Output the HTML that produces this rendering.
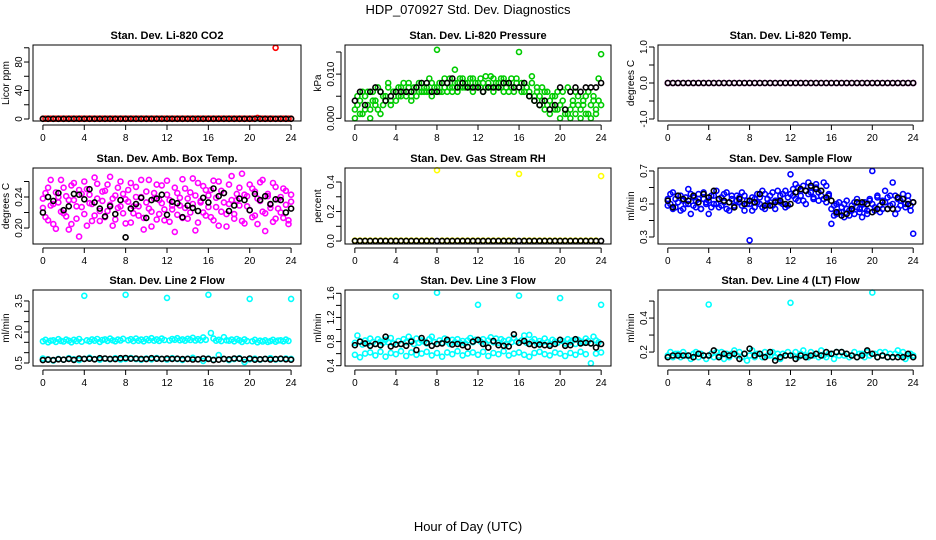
<!DOCTYPE html>
<html><head><meta charset="utf-8"><style>
html,body{margin:0;padding:0;background:#fff;}
svg{display:block;font-family:"Liberation Sans",sans-serif;}
</style></head><body>
<svg id="chart" width="936" height="540" viewBox="0 0 936 540" xmlns="http://www.w3.org/2000/svg">
<text x="468" y="14" text-anchor="middle" font-size="13">HDP_070927  Std. Dev. Diagnostics</text>
<text x="468" y="531" text-anchor="middle" font-size="13">Hour of Day (UTC)</text>
</svg>
<script>
const xTicks=[0,4,8,12,16,20,24];
// Panel 1: CO2
const co2Color=[0.4,0.4,0.4,0.4,0.4,0.4,0.4,0.4,0.4,0.4,0.4,0.4,0.4,0.4,0.4,0.4,0.4,0.4,0.4,0.4,0.4,0.4,0.4,0.4,0.4,0.4,0.4,0.4,0.4,0.4,0.4,0.4,0.4,0.4,0.4,0.4,0.4,0.4,0.4,0.4,0.4,0.4,0.4,0.4,0.4,0.4,0.4,0.4,0.4,0.4,0.4,0.4,0.4,0.4,0.4,0.4,0.4,0.4,0.4,0.4,0.4,0.4,0.4,0.4,0.4,0.4,0.4,0.4,0.4,0.4,0.4,0.4,0.4,0.4,0.4,0.4,0.4,0.4,0.4,0.4,0.4,0.4,0.4,1.5,0.4,0.4,0.4,0.4,0.4,0.4,100,0.4,0.4,0.4,0.4,0.4,0.4];
const co2Black=[0.3,0.3,0.3,0.3,0.3,0.3,0.3,0.3,0.3,0.3,0.3,0.3,0.3,0.3,0.3,0.3,0.3,0.3,0.3,0.3,0.3,0.3,0.3,0.3,0.3,0.3,0.3,0.3,0.3,0.3,0.3,0.3,0.3,0.3,0.3,0.3,0.3,0.3,0.3,0.3,0.3,0.3,0.3,0.3,0.3,0.3,0.3,0.3,0.3];
// Panel 2: Pressure
const presColor=[.000,.005,.001,.006,.002,.006,.000,.004,.003,.007,.001,.005,.004,.008,.003,.006,.004,.007,.005,.008,.005,.008,.004,.007,.005,.008,.006,.007,.006,.009,.005,.007,.0155,.006,.008,.007,.006,.009,.007,.011,.006,.009,.007,.008,.007,.009,.006,.008,.007,.009,.006,.0095,.007,.0095,.006,.008,.007,.009,.006,.008,.006,.009,.007,.008,.015,.006,.008,.007,.005,.0095,.004,.007,.003,.007,.002,.006,.001,.005,.002,.006,.000,.004,.001,.007,.000,.003,.001,.005,.000,.004,.001,.006,.000,.004,.002,.009,.0145];
const presColor2=[.002,.003,.004,.001,.005,.003,.002,.006,.004,.002,.006,.003,.005,.007,.004,.006,.006,.005,.007,.006,.006,.007,.005,.006,.007,.006,.008,.006,.007,.006,.008,.006,.007,.008,.006,.009,.008,.007,.006,.008,.008,.007,.009,.007,.008,.007,.009,.007,.008,.007,.008,.007,.008,.007,.009,.007,.008,.007,.009,.007,.008,.007,.006,.009,.007,.008,.006,.007,.006,.008,.005,.006,.005,.004,.006,.003,.004,.003,.005,.002,.003,.006,.002,.001,.002,.004,.006,.003,.002,.003,.005,.001,.003,.005,.001,.004,.003];
const presBlack=[.004,.006,.003,.006,.007,.006,.004,.005,.006,.006,.006,.006,.007,.008,.008,.006,.006,.008,.008,.009,.007,.008,.007,.007,.007,.006,.007,.007,.007,.008,.008,.007,.007,.008,.005,.004,.003,.004,.002,.003,.007,.002,.006,.007,.006,.007,.007,.007,.008];
// Panel 3: Temp
const tempColor=[0,0,0,0,0,0,0,0,0,0,0,0,0,0,0,0,0,0,0,0,0,0,0,0,0,0,0,0,0,0,0,0,0,0,0,0,0,0,0,0,0,0,0,0,0,0,0,0,0];
const tempBlack=[0,0,0,0,0,0,0,0,0,0,0,0,0,0,0,0,0,0,0,0,0,0,0,0,0,0,0,0,0,0,0,0,0,0,0,0,0,0,0,0,0,0,0,0,0,0,0,0,0];
// Panel 4: Amb box temp
const boxColor=[0.226,0.245,0.210,0.262,0.231,0.199,0.240,0.221,0.252,0.215,0.236,0.205,0.258,0.228,0.189,0.244,0.218,0.250,0.232,0.209,0.265,0.238,0.222,0.247,0.214,0.256,0.230,0.203,0.242,0.226,0.260,0.219,0.237,0.249,0.207,0.228,0.253,0.216,0.240,0.198,0.233,0.262,0.221,0.245,0.211,0.236,0.255,0.224,0.243,0.208,0.229,0.252,0.217,0.239,0.263,0.226,0.212,0.246,0.231,0.197,0.258,0.235,0.220,0.249,0.242,0.214,0.261,0.227,0.203,0.248,0.233,0.218,0.256,0.236,0.212,0.244,0.229,0.270,0.206,0.241,0.223,0.251,0.216,0.238,0.259,0.221,0.196,0.244,0.230,0.208,0.253,0.225,0.240,0.213,0.248,0.205,0.234];
const boxColor2=[0.238,0.214,0.252,0.229,0.205,0.246,0.233,0.262,0.219,0.241,0.198,0.255,0.236,0.212,0.249,0.227,0.260,0.203,0.243,0.231,0.216,0.257,0.209,0.235,0.248,0.222,0.266,0.238,0.211,0.252,0.228,0.244,0.206,0.234,0.258,0.219,0.240,0.228,0.262,0.213,0.247,0.225,0.202,0.238,0.256,0.218,0.232,0.210,0.261,0.236,0.224,0.195,0.245,0.229,0.213,0.251,0.238,0.220,0.264,0.242,0.207,0.233,0.254,0.216,0.227,0.249,0.210,0.239,0.260,0.221,0.245,0.202,0.231,0.267,0.218,0.236,0.252,0.209,0.243,0.228,0.256,0.214,0.247,0.205,0.235,0.262,0.219,0.241,0.226,0.258,0.212,0.237,0.220,0.251,0.230,0.210,0.243];
const boxBlack=[0.220,0.240,0.235,0.245,0.223,0.228,0.244,0.243,0.237,0.250,0.233,0.225,0.215,0.228,0.218,0.236,0.188,0.225,0.231,0.239,0.213,0.236,0.238,0.243,0.217,0.234,0.232,0.214,0.229,0.226,0.222,0.239,0.233,0.251,0.241,0.245,0.222,0.229,0.238,0.236,0.223,0.244,0.236,0.241,0.231,0.237,0.236,0.220,0.225];
// Panel 5: RH
const rhColor=[.003,.003,.003,.003,.003,.003,.003,.003,.003,.003,.003,.003,.003,.003,.003,.003,.48,.003,.003,.003,.003,.003,.003,.003,.003,.003,.003,.003,.003,.003,.003,.003,.455,.003,.003,.003,.003,.003,.003,.003,.003,.003,.003,.003,.003,.003,.003,.003,.44];
const rhBlack=[.001,.001,.001,.001,.001,.001,.001,.001,.001,.001,.001,.001,.001,.001,.001,.001,.001,.001,.001,.001,.001,.001,.001,.001,.001,.001,.001,.001,.001,.001,.001,.001,.001,.001,.001,.001,.001,.001,.001,.001,.001,.001,.001,.001,.001,.001,.001,.001,.001];
// Panel 6: Sample flow
const sfColor=[.49,.56,.47,.53,.55,.46,.52,.50,.59,.44,.54,.48,.56,.47,.53,.50,.44,.55,.50,.58,.48,.54,.51,.57,.46,.53,.49,.55,.51,.57,.46,.52,.28,.54,.48,.56,.50,.58,.47,.53,.55,.49,.52,.58,.51,.56,.48,.54,.68,.55,.62,.52,.58,.61,.50,.56,.60,.53,.62,.57,.55,.63,.51,.56,.38,.43,.50,.45,.48,.42,.52,.46,.49,.44,.53,.47,.42,.51,.46,.53,.70,.48,.54,.45,.52,.58,.47,.55,.63,.44,.53,.49,.56,.48,.52,.46,.32];
const sfColor2=[.53,.50,.57,.48,.51,.55,.47,.54,.50,.56,.49,.52,.53,.47,.57,.51,.52,.48,.55,.50,.53,.49,.56,.47,.51,.55,.48,.52,.54,.49,.55,.50,.50,.46,.53,.51,.54,.48,.56,.50,.51,.57,.47,.52,.55,.50,.58,.49,.56,.59,.53,.60,.55,.52,.58,.63,.57,.54,.60,.52,.58,.53,.61,.55,.47,.49,.44,.51,.45,.50,.47,.43,.46,.51,.48,.45,.50,.47,.44,.52,.50,.46,.55,.49,.47,.51,.54,.49,.50,.55,.47,.52,.53,.50,.55,.49,.51];
const sfBlack=[.52,.48,.55,.53,.52,.55,.51,.56,.54,.58,.53,.52,.51,.48,.53,.50,.52,.51,.56,.49,.49,.51,.52,.50,.50,.57,.59,.58,.61,.59,.58,.54,.52,.45,.43,.44,.47,.51,.51,.50,.45,.47,.51,.47,.47,.54,.53,.50,.51];
// Panel 7: Line 2 flow
const l2Upper=[1.55,1.62,1.50,1.58,1.60,1.52,1.65,1.57,1.54,1.63,1.58,1.50,1.62,1.56,1.66,1.53,3.75,1.60,1.55,1.64,1.58,1.66,1.52,1.61,1.64,1.57,1.68,1.60,1.55,1.63,1.59,1.67,3.80,1.60,1.65,1.56,1.68,1.58,1.63,1.55,1.66,1.60,1.70,1.58,1.64,1.57,1.68,1.61,3.65,1.59,1.66,1.62,1.70,1.60,1.64,1.58,1.67,1.61,1.72,1.59,1.65,1.60,1.74,1.62,3.80,1.95,1.68,1.58,1.62,1.56,1.75,1.60,1.58,1.63,1.55,1.66,1.60,1.52,1.64,1.56,3.60,1.55,1.62,1.50,1.58,1.54,1.60,1.52,1.56,1.62,1.53,1.59,1.60,1.55,1.63,1.57,3.60];
const l2Lower=[.72,.68,.62,.70,.66,.73,.68,.64,.70,.75,.69,.66,.71,.68,.73,.67,.70,.74,.69,.66,.72,.68,.74,.70,.67,.73,.69,.65,.71,.75,.68,.60,.72,.66,.88,.70,.64,.69,.73,.55,.68,.71,.66,.70,.73,.67,.69,.72,.70];
const l2Black=[.64,.66,.64,.68,.66,.70,.65,.72,.70,.71,.68,.73,.72,.70,.69,.73,.74,.71,.72,.70,.69,.73,.71,.70,.72,.70,.71,.69,.70,.67,.68,.72,.70,.64,.66,.70,.68,.72,.71,.67,.72,.66,.68,.70,.67,.69,.71,.68,.66];
// Panel 8: Line 3 flow
const l3Upper=[.78,.90,.80,.75,.82,.77,.85,.79,.76,.84,.80,.78,.83,.79,.86,.77,1.55,.81,.76,.84,.79,.88,.82,.76,.85,.78,.82,.80,.77,.84,.88,.79,1.61,.82,.78,.85,.80,.76,.83,.79,.84,.78,.81,.77,.82,.86,.79,.83,1.41,.80,.84,.77,.82,.87,.79,.85,.78,.84,.81,.76,.83,.79,.86,.80,1.56,.82,.90,.78,.91,.80,.84,.77,.81,.78,.85,.79,.76,.83,.80,.78,1.52,.81,.77,.84,.79,.82,.76,.83,.80,.78,.85,.81,.77,.88,.82,.79,1.41];
const l3Lower=[.58,.54,.60,.62,.57,.63,.55,.61,.59,.64,.56,.62,.58,.60,.63,.57,.61,.55,.62,.59,.64,.57,.60,.62,.58,.63,.56,.61,.59,.64,.57,.60,.62,.58,.55,.61,.63,.59,.57,.62,.60,.56,.61,.58,.63,.59,.44,.60,.62];
const l3Black=[.74,.80,.77,.73,.76,.74,.88,.72,.75,.76,.73,.80,.66,.86,.78,.73,.76,.77,.83,.75,.76,.74,.71,.80,.83,.76,.70,.81,.74,.73,.72,.92,.78,.81,.76,.74,.75,.74,.73,.76,.83,.73,.74,.84,.77,.78,.77,.70,.76];
// Panel 9: Line 4 flow
const l4Color=[.18,.20,.17,.19,.19,.17,.20,.18,.18,.16,.19,.20,.17,.19,.18,.16,.48,.19,.17,.20,.18,.20,.16,.19,.17,.19,.21,.18,.20,.17,.19,.15,.18,.21,.17,.19,.19,.17,.20,.18,.18,.20,.17,.19,.16,.19,.18,.20,.49,.18,.20,.17,.19,.21,.18,.17,.20,.18,.19,.17,.21,.18,.17,.19,.19,.16,.20,.18,.20,.18,.19,.17,.18,.20,.17,.19,.19,.17,.20,.18,.55,.19,.17,.20,.18,.20,.17,.19,.17,.19,.21,.18,.20,.16,.18,.19,.18];
const l4Black=[.17,.18,.18,.18,.18,.17,.19,.18,.18,.21,.17,.19,.18,.19,.16,.19,.22,.18,.19,.17,.20,.15,.17,.18,.18,.16,.18,.17,.18,.19,.18,.20,.19,.20,.20,.19,.18,.17,.18,.21,.19,.17,.18,.17,.17,.17,.17,.19,.17];

const cols=[{x0:33,x1:301},{x0:345,x1:611},{x0:658,x1:923}];
const rows=[{y0:45,y1:121},{y0:168,y1:244},{y0:290,y1:366}];
const panels=[
 {name:'co2',title:'Stan. Dev. Li-820 CO2',yl:'Licor ppm',c:0,r:0,ymin:-2.8,ymax:103.9,ticks:[0,20,40,60,80,100],labels:['0','','40','','80',''],series:[[co2Color,'#ff0000'],[co2Black,'#000']]},
 {name:'pressure',title:'Stan. Dev. Li-820 Pressure',yl:'kPa',c:1,r:0,ymin:-0.0006,ymax:0.01658,ticks:[0,0.005,0.01,0.015],labels:['0.000','','0.010',''],series:[[presColor,'#00cc00'],[presColor2,'#00cc00'],[presBlack,'#000']]},
 {name:'temp',title:'Stan. Dev. Li-820 Temp.',yl:'degrees C',c:2,r:0,ymin:-1.056,ymax:1.056,ticks:[-1,-0.5,0,0.5,1],labels:['-1.0','','0.0','','1.0'],series:[[tempColor,'#ff00ff'],[tempBlack,'#000']]},
 {name:'box-temp',title:'Stan. Dev. Amb. Box Temp.',yl:'degrees C',c:0,r:1,ymin:0.1794,ymax:0.2774,ticks:[0.20,0.22,0.24,0.26],labels:['0.20','','0.24',''],series:[[boxColor,'#ff00ff'],[boxColor2,'#ff00ff'],[boxBlack,'#000']]},
 {name:'rh',title:'Stan. Dev. Gas Stream RH',yl:'percent',c:1,r:1,ymin:-0.02,ymax:0.495,ticks:[0,0.1,0.2,0.3,0.4],labels:['0.0','','0.2','','0.4'],series:[[rhColor,'#ffff00'],[rhBlack,'#000']]},
 {name:'sample-flow',title:'Stan. Dev. Sample Flow',yl:'ml/min',c:2,r:1,ymin:0.2576,ymax:0.718,ticks:[0.3,0.4,0.5,0.6,0.7],labels:['0.3','','0.5','','0.7'],series:[[sfColor,'#0000ff'],[sfColor2,'#0000ff'],[sfBlack,'#000']]},
 {name:'line2-flow',title:'Stan. Dev. Line 2 Flow',yl:'ml/min',c:0,r:2,ymin:0.355,ymax:4.03,ticks:[0.5,1,1.5,2,2.5,3,3.5],labels:['0.5','','','2.0','','','3.5'],series:[[l2Upper,'#00ffff'],[l2Lower,'#00ffff'],[l2Black,'#000']]},
 {name:'line3-flow',title:'Stan. Dev. Line 3 Flow',yl:'ml/min',c:1,r:2,ymin:0.395,ymax:1.655,ticks:[0.4,0.6,0.8,1.0,1.2,1.4,1.6],labels:['0.4','','0.8','','1.2','','1.6'],series:[[l3Upper,'#00ffff'],[l3Lower,'#00ffff'],[l3Black,'#000']]},
 {name:'line4-flow',title:'Stan. Dev. Line 4 (LT) Flow',yl:'ml/min',c:2,r:2,ymin:0.118,ymax:0.565,ticks:[0.2,0.3,0.4,0.5],labels:['0.2','','0.4',''],series:[[l4Color,'#00ffff'],[l4Black,'#000']]}
];
const NS='http://www.w3.org/2000/svg';
const svg=document.getElementById('chart');
function mk(tag,attrs,parent){const e=document.createElementNS(NS,tag);for(const k in attrs)e.setAttribute(k,attrs[k]);(parent||svg).appendChild(e);return e;}
panels.forEach(p=>{
 const X0=cols[p.c].x0,X1=cols[p.c].x1,Y0=rows[p.r].y0,Y1=rows[p.r].y1;
 const xs=h=>X0+(h+0.96)/25.92*(X1-X0);
 const ys=v=>Y1-(v-p.ymin)/(p.ymax-p.ymin)*(Y1-Y0);
 const g=mk('g',{});
 
 
 const t=mk('text',{x:(X0+X1)/2,y:Y0-6,'text-anchor':'middle','font-size':'11','font-weight':'bold'},g);
 t.textContent=p.title;
 
 
 const clip=mk('g',{},g);
 p.series.forEach((s,si)=>{
  const vals=s[0],n=vals.length;
  const sg=mk('g',{fill:'none',stroke:s[1],'stroke-width':'1.6'},clip);
  
  
  vals.forEach((v,i)=>{
   const h=i*24/(n-1);
   const c=mk('circle',{cx:xs(h).toFixed(1),cy:ys(v).toFixed(1),r:'2.5'},sg);
   
   
  });
 });
 const box=mk('rect',{x:X0,y:Y0,width:X1-X0,height:Y1-Y0,fill:'none',stroke:'#000','stroke-width':'1'},g);
 
 
 const xa=mk('g',{stroke:'#000','stroke-width':'1'},g);
 
 
 mk('line',{x1:xs(0),x2:xs(24),y1:Y1+4,y2:Y1+4},xa);
 xTicks.forEach(h=>{
  mk('line',{x1:xs(h),x2:xs(h),y1:Y1+4,y2:Y1+9},xa);
  const l=mk('text',{x:xs(h),y:Y1+20,'text-anchor':'middle','font-size':'10',stroke:'none',fill:'#000'},g);
  l.textContent=h;
  
  
 });
 const ya=mk('g',{stroke:'#000','stroke-width':'1'},g);
 
 
 mk('line',{x1:X0-4,x2:X0-4,y1:ys(p.ticks[0]),y2:ys(p.ticks[p.ticks.length-1])},ya);
 p.ticks.forEach((v,i)=>{
  const y=ys(v);
  mk('line',{x1:X0-4,x2:X0-9,y1:y,y2:y},ya);
  if(p.labels[i]){
   const l=mk('text',{x:X0-11,y:y,'text-anchor':'middle','font-size':'10',transform:`rotate(-90 ${X0-11} ${y})`},g);
   l.textContent=p.labels[i];
   
   
  }
 });
 const yt=mk('text',{x:X0-24,y:(Y0+Y1)/2,'text-anchor':'middle','font-size':'10',transform:`rotate(-90 ${X0-24} ${(Y0+Y1)/2})`},g);
 yt.textContent=p.yl;
 
 
});
</script>
</body></html>
